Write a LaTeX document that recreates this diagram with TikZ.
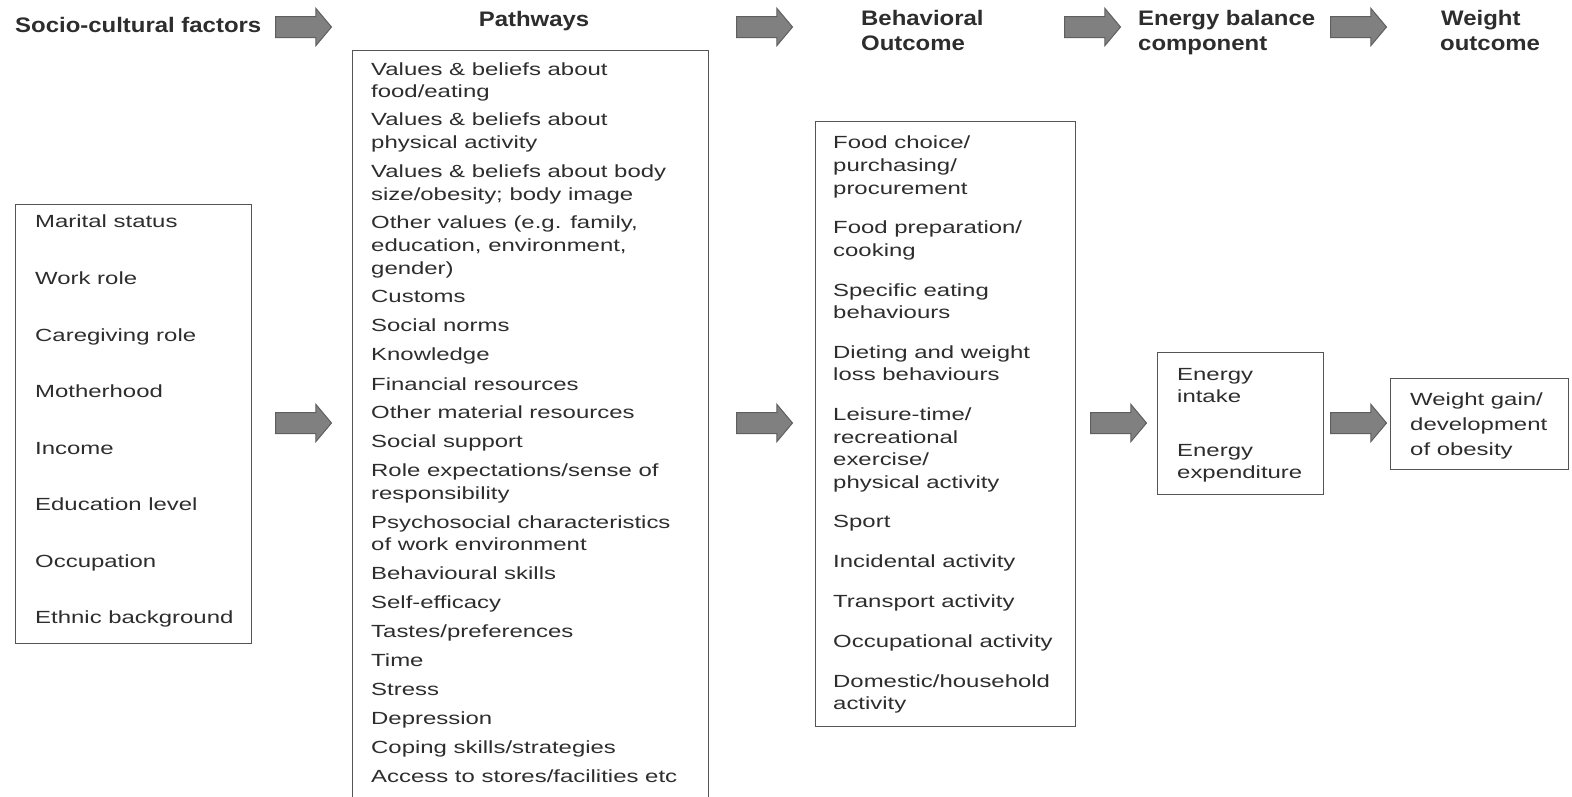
\documentclass[tikz,border=0pt]{standalone}
\usepackage{fontspec}
\setmainfont{Liberation Sans}
\newfontfamily\bodyf[FakeStretch=1.36]{Liberation Sans}
\newfontfamily\headf[FakeStretch=1.14]{Liberation Sans}
\usetikzlibrary{shapes.arrows}
\definecolor{txt}{RGB}{45,45,45}
\definecolor{boxline}{RGB}{85,85,85}
\definecolor{arrfill}{RGB}{128,128,128}
\definecolor{arrline}{RGB}{95,95,95}
\tikzset{
 bt/.style={anchor=base west, inner sep=0pt, yshift=-2.5pt, text=txt, font=\bodyf\fontsize{17.6}{22}\selectfont},
 ht/.style={anchor=base west, inner sep=0pt, text=txt, font=\headf\bfseries\fontsize{21}{25}\selectfont},
 panel/.style={draw=boxline, line width=1.4pt, anchor=north west, inner sep=0pt},
 blockarrow/.style={single arrow, draw=arrline, fill=arrfill, line width=1pt, inner sep=0pt,
   minimum height=56pt, single arrow head extend=8pt, single arrow tip angle=100,
   text height=20pt, text depth=0pt, anchor=tail}
}
\begin{document}
\begin{tikzpicture}[x=1pt,y=-1pt]
\useasboundingbox (0,0) rectangle (1572,796);
\clip (0,0) rectangle (1572,796);
% headers
\node[ht] (h1) at (15,32) {Socio-cultural factors};
\node[ht,anchor=base] (h2) at (534,26) {Pathways};
\node[ht] (h3a) at (861,25) {Behavioral};
\node[ht] (h3b) at (861,50) {Outcome};
\node[ht] (h4a) at (1138,25) {Energy balance};
\node[ht] (h4b) at (1138,50) {component};
\node[ht] (h5a) at (1441,25) {Weight};
\node[ht] (h5b) at (1440,50) {outcome};
% header arrows
\node[blockarrow] (ha1) at (275,27) {};
\node[blockarrow] (ha2) at (736,27) {};
\node[blockarrow] (ha3) at (1064,27) {};
\node[blockarrow] (ha4) at (1330,27) {};
% panels
\node[panel, minimum width=236pt, minimum height=439pt] (soc) at (15,204) {};
\node[panel, minimum width=356pt, minimum height=770pt] (path) at (352,50) {};
\node[panel, minimum width=260pt, minimum height=605pt] (beh) at (815,121) {};
\node[panel, minimum width=166pt, minimum height=142pt] (ene) at (1157,352) {};
\node[panel, minimum width=178pt, minimum height=91pt] (wt) at (1390,378) {};
% middle arrows
\node[blockarrow] (a1) at (275,423) {};
\node[blockarrow] (a2) at (736,423) {};
\node[blockarrow] (a3) at (1090,423) {};
\node[blockarrow] (a4) at (1330,423) {};
% socio-cultural factors
\node[bt] (s1) at (35,225) {Marital status};
\node[bt] (s2) at (35,282) {Work role};
\node[bt] (s3) at (35,339) {Caregiving role};
\node[bt] (s4) at (35,395) {Motherhood};
\node[bt] (s5) at (35,452) {Income};
\node[bt] (s6) at (35,508) {Education level};
\node[bt] (s7) at (35,565) {Occupation};
\node[bt] (s8) at (35,621) {Ethnic background};
% pathways
\node[bt] (p1) at (371,73) {Values \& beliefs about};
\node[bt] (p2) at (371,95) {food/eating};
\node[bt] (p3) at (371,123) {Values \& beliefs about};
\node[bt] (p4) at (371,146) {physical activity};
\node[bt] (p5) at (371,175) {Values \& beliefs about body};
\node[bt] (p6) at (371,198) {size/obesity; body image};
\node[bt] (p7) at (371,226) {Other values (e.g. family,};
\node[bt] (p8) at (371,249) {education, environment,};
\node[bt] (p9) at (371,272) {gender)};
\node[bt] (p10) at (371,300) {Customs};
\node[bt] (p11) at (371,329) {Social norms};
\node[bt] (p12) at (371,358) {Knowledge};
\node[bt] (p13) at (371,388) {Financial resources};
\node[bt] (p14) at (371,416) {Other material resources};
\node[bt] (p15) at (371,445) {Social support};
\node[bt] (p16) at (371,474) {Role expectations/sense of};
\node[bt] (p17) at (371,497) {responsibility};
\node[bt] (p18) at (371,526) {Psychosocial characteristics};
\node[bt] (p19) at (371,548) {of work environment};
\node[bt] (p20) at (371,577) {Behavioural skills};
\node[bt] (p21) at (371,606) {Self-efficacy};
\node[bt] (p22) at (371,635) {Tastes/preferences};
\node[bt] (p23) at (371,664) {Time};
\node[bt] (p24) at (371,693) {Stress};
\node[bt] (p25) at (371,722) {Depression};
\node[bt] (p26) at (371,751) {Coping skills/strategies};
\node[bt] (p27) at (371,780) {Access to stores/facilities etc};
% behavioral outcome
\node[bt] (b1) at (833,146) {Food choice/};
\node[bt] (b2) at (833,169) {purchasing/};
\node[bt] (b3) at (833,192) {procurement};
\node[bt] (b4) at (833,231) {Food preparation/};
\node[bt] (b5) at (833,254) {cooking};
\node[bt] (b6) at (833,294) {Specific eating};
\node[bt] (b7) at (833,316) {behaviours};
\node[bt] (b8) at (833,356) {Dieting and weight};
\node[bt] (b9) at (833,378) {loss behaviours};
\node[bt] (b10) at (833,418) {Leisure-time/};
\node[bt] (b11) at (833,441) {recreational};
\node[bt] (b12) at (833,463) {exercise/};
\node[bt] (b13) at (833,486) {physical activity};
\node[bt] (b14) at (833,525) {Sport};
\node[bt] (b15) at (833,565) {Incidental activity};
\node[bt] (b16) at (833,605) {Transport activity};
\node[bt] (b17) at (833,645) {Occupational activity};
\node[bt] (b18) at (833,685) {Domestic/household};
\node[bt] (b19) at (833,707) {activity};
% energy balance
\node[bt] (e1) at (1177,378) {Energy};
\node[bt] (e2) at (1177,400) {intake};
\node[bt] (e3) at (1177,454) {Energy};
\node[bt] (e4) at (1177,476) {expenditure};
% weight outcome
\node[bt] (w1) at (1410,403) {Weight gain/};
\node[bt] (w2) at (1410,428) {development};
\node[bt] (w3) at (1410,453) {of obesity};
\end{tikzpicture}
\end{document}
